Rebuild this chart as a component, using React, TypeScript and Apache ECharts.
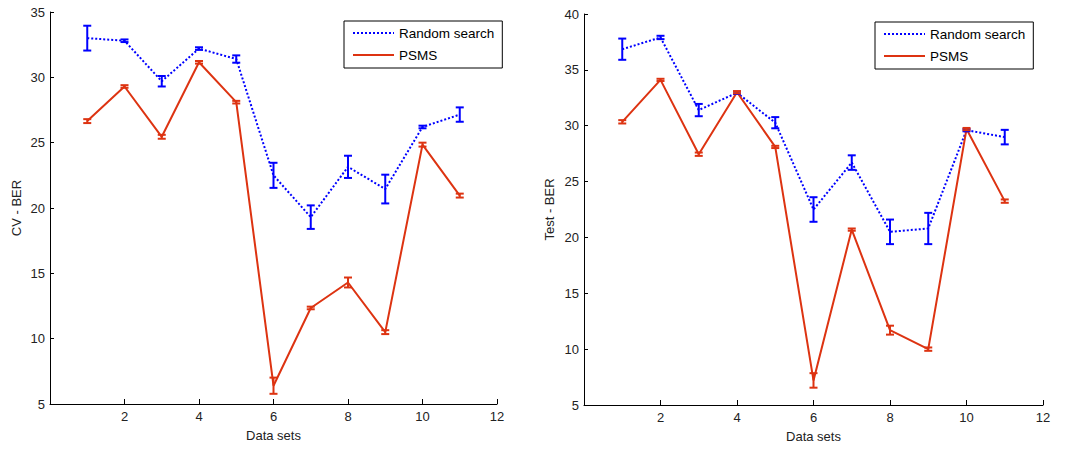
import React, { useEffect, useRef } from "react";
import * as echarts from "echarts";

const dataSets = [1, 2, 3, 4, 5, 6, 7, 8, 9, 10, 11];

// Left panel: CV - BER
const cvRandom = [33.0, 32.8, 29.7, 32.2, 31.4, 22.5, 19.3, 23.15, 21.45, 26.2, 27.15];
const cvRandomErr = [0.95, 0.1, 0.4, 0.1, 0.28, 0.96, 0.9, 0.85, 1.1, 0.1, 0.55];
const cvPsms = [26.65, 29.3, 25.45, 31.15, 28.1, 6.4, 12.35, 14.3, 10.5, 24.85, 20.95];
const cvPsmsErr = [0.15, 0.1, 0.15, 0.1, 0.1, 0.62, 0.1, 0.38, 0.15, 0.15, 0.15];

// Right panel: Test - BER
const testRandom = [36.85, 37.9, 31.4, 32.95, 30.27, 22.5, 26.7, 20.5, 20.8, 29.6, 28.98];
const testRandomErr = [0.95, 0.15, 0.55, 0.1, 0.5, 1.1, 0.65, 1.1, 1.4, 0.1, 0.65];
const testPsms = [30.35, 34.1, 27.45, 33.0, 28.1, 7.2, 20.7, 11.7, 10.0, 29.7, 23.25];
const testPsmsErr = [0.15, 0.1, 0.15, 0.1, 0.1, 0.65, 0.1, 0.4, 0.15, 0.1, 0.15];

const xTicks = { min: 0, max: 12, interval: 2 };
const leftY = { min: 5, max: 35, interval: 5 };
const rightY = { min: 5, max: 40, interval: 5 };

const BLUE = "#0000FF";
const RED = "#DD3311";
const FONT = "'Liberation Sans', Arial, sans-serif";

function lineData(vals: number[]) {
  return dataSets.map((x, i) => [x, vals[i]]);
}
function errData(vals: number[], errs: number[]) {
  return dataSets.map((x, i) => [x, vals[i] - errs[i], vals[i] + errs[i]]);
}

function errSeries(name: string, vals: number[], errs: number[], color: string, idx: number) {
  return {
    type: "custom",
    name,
    xAxisIndex: idx,
    yAxisIndex: idx,
    data: errData(vals, errs),
    encode: { x: 0, y: [1, 2] },
    z: 5,
    renderItem: (params: any, api: any) => {
      const x = api.value(0);
      const lo = api.coord([x, api.value(1)]);
      const hi = api.coord([x, api.value(2)]);
      const hw = 4;
      const style = { stroke: color, lineWidth: 2, fill: "none" };
      return {
        type: "group",
        children: [
          { type: "line", shape: { x1: lo[0], y1: lo[1], x2: hi[0], y2: hi[1] }, style },
          { type: "line", shape: { x1: lo[0] - hw, y1: lo[1], x2: lo[0] + hw, y2: lo[1] }, style },
          { type: "line", shape: { x1: hi[0] - hw, y1: hi[1], x2: hi[0] + hw, y2: hi[1] }, style },
        ],
      };
    },
  };
}

function lineSeries(name: string, vals: number[], color: string, dotted: boolean, idx: number) {
  return {
    type: "line",
    name,
    xAxisIndex: idx,
    yAxisIndex: idx,
    data: lineData(vals),
    symbol: "none",
    z: 3,
    lineStyle: { color, width: 2, type: dotted ? [2, 2] : "solid" },
    itemStyle: { color },
  };
}

function xAxis(idx: number) {
  return {
    type: "value",
    gridIndex: idx,
    min: xTicks.min,
    max: xTicks.max,
    interval: xTicks.interval,
    name: "Data sets",
    nameLocation: "middle",
    nameGap: 25,
    nameTextStyle: { color: "#222", fontSize: 13, fontFamily: FONT },
    axisLine: { show: true, onZero: false, lineStyle: { color: "#000", width: 1 } },
    axisTick: { show: true, inside: true, length: 5, lineStyle: { color: "#000" } },
    axisLabel: { showMinLabel: false, color: "#222", fontSize: 13, fontFamily: FONT, margin: 6 },
    splitLine: { show: false },
  };
}

function yAxis(idx: number, cfg: { min: number; max: number; interval: number }, name: string, gap: number) {
  return {
    type: "value",
    gridIndex: idx,
    min: cfg.min,
    max: cfg.max,
    interval: cfg.interval,
    name,
    nameLocation: "middle",
    nameGap: gap,
    nameTextStyle: { color: "#222", fontSize: 13, fontFamily: FONT },
    axisLine: { show: true, onZero: false, lineStyle: { color: "#000", width: 1 } },
    axisTick: { show: true, inside: true, length: 4, lineStyle: { color: "#000" } },
    axisLabel: { color: "#222", fontSize: 13, fontFamily: FONT, margin: 5 },
    splitLine: { show: false },
  };
}

function legend(left: number, top: number) {
  return {
    orient: "vertical",
    left,
    top,
    padding: [5, 8, 6, 8],
    itemWidth: 41,
    itemHeight: 14,
    itemGap: 8,
    borderColor: "#000",
    borderWidth: 1,
    backgroundColor: "#fff",
    itemStyle: { opacity: 0 },
    textStyle: { color: "#000", fontSize: 13.5, fontFamily: FONT },
    data: ["Random search", "PSMS"],
    selectedMode: false,
  };
}

export default function App() {
  const ref = useRef<HTMLDivElement>(null);
  useEffect(() => {
    if (!ref.current) return;
    const chart = echarts.init(ref.current, undefined, { renderer: "svg" });
    chart.setOption({
      animation: false,
      backgroundColor: "#fff",
      grid: [
        { left: 50, right: 571, top: 12, bottom: 45 },
        { left: 584, right: 25, top: 14, bottom: 44 },
      ],
      legend: [legend(344, 21), legend(875, 22)],
      xAxis: [xAxis(0), xAxis(1)],
      yAxis: [yAxis(0, leftY, "CV - BER", 27), yAxis(1, rightY, "Test - BER", 28)],
      series: [
        lineSeries("Random search", cvRandom, BLUE, true, 0),
        lineSeries("PSMS", cvPsms, RED, false, 0),
        errSeries("Random search err", cvRandom, cvRandomErr, BLUE, 0),
        errSeries("PSMS err", cvPsms, cvPsmsErr, RED, 0),
        lineSeries("Random search", testRandom, BLUE, true, 1),
        lineSeries("PSMS", testPsms, RED, false, 1),
        errSeries("Random search err", testRandom, testRandomErr, BLUE, 1),
        errSeries("PSMS err", testPsms, testPsmsErr, RED, 1),
      ],
    });
    return () => chart.dispose();
  }, []);
  return (
    <div
      ref={ref}
      style={{ position: "fixed", left: 0, top: 0, width: 1068, height: 449, background: "#fff" }}
    />
  );
}
